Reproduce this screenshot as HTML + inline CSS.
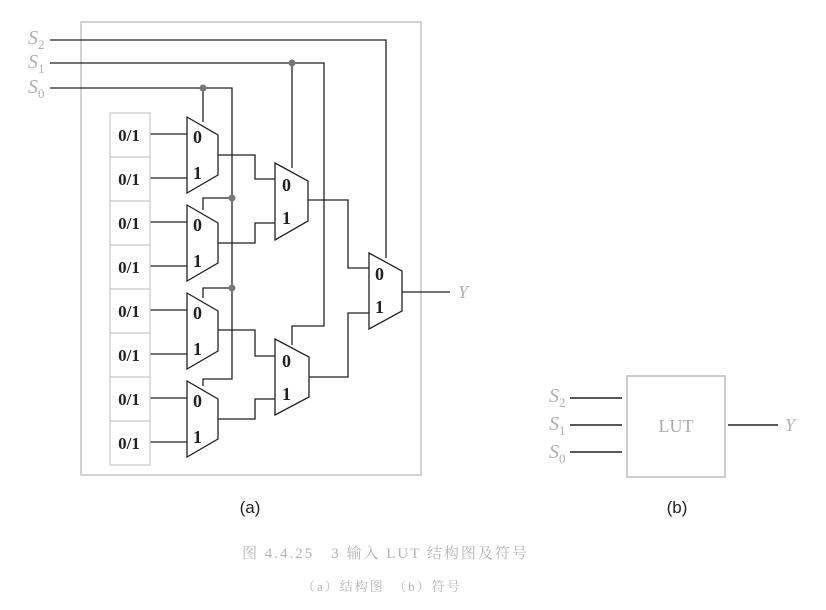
<!DOCTYPE html>
<html><head><meta charset="utf-8"><style>
body{margin:0;background:#fff;}
svg{display:block;}
.g{fill:#b0b0b0;font-family:"Liberation Serif",serif;font-style:italic;}
.g tspan{font-style:normal;}
.b{font-family:"Liberation Serif",serif;font-weight:bold;fill:#222;}
</style></head><body>
<svg width="826" height="610" viewBox="0 0 826 610" xmlns="http://www.w3.org/2000/svg">
<rect x="81" y="22" width="340" height="453" fill="none" stroke="#c4c4c4" stroke-width="1.5"/>
<g class="g" font-size="20">
<text x="28" y="44">S<tspan font-size="13" dy="5">2</tspan></text>
<text x="28" y="68">S<tspan font-size="13" dy="5">1</tspan></text>
<text x="28" y="93">S<tspan font-size="13" dy="5">0</tspan></text>
</g>
<g fill="none" stroke="#222" stroke-width="1.3">
<polyline points="50,40 386,40 386,258"/>
<polyline points="50,63 324,63 324,326 292,326 292,345"/>
<line x1="292" y1="63" x2="292" y2="168"/>
<polyline points="50,88 232,88 232,379 203,379 203,386"/>
<line x1="203" y1="88" x2="203" y2="122"/>
<polyline points="232,198 203,198 203,210"/>
<polyline points="232,288 203,288 203,298"/>
<polygon points="187,117 218,135 218,175 187,193"/>
<polygon points="187,205 218,223 218,263 187,281"/>
<polygon points="187,293 218,311 218,351 187,369"/>
<polygon points="187,381 218,399 218,439 187,457"/>
<polygon points="275,163 308,181 308,221 275,240"/>
<polygon points="275,339 309,357 309,397 275,415"/>
<polygon points="369,253 402,271 402,311 369,329"/>
<line x1="150" y1="134" x2="187" y2="134"/>
<line x1="150" y1="178" x2="187" y2="178"/>
<line x1="150" y1="222" x2="187" y2="222"/>
<line x1="150" y1="266" x2="187" y2="266"/>
<line x1="150" y1="310" x2="187" y2="310"/>
<line x1="150" y1="354" x2="187" y2="354"/>
<line x1="150" y1="398" x2="187" y2="398"/>
<line x1="150" y1="442" x2="187" y2="442"/>
<polyline points="218,155 255,155 255,179 275,179"/>
<polyline points="218,243 255,243 255,223 275,223"/>
<polyline points="218,330 255,330 255,356 275,356"/>
<polyline points="218,419 255,419 255,399 275,399"/>
<polyline points="308,200 348,200 348,268 369,268"/>
<polyline points="309,377 348,377 348,313 369,313"/>
<line x1="402" y1="292" x2="450" y2="292"/>
</g>
<g fill="#777"><circle cx="292" cy="63" r="3.5"/><circle cx="203" cy="88" r="3.5"/><circle cx="232" cy="198" r="3.5"/><circle cx="232" cy="288" r="3.5"/></g>
<g fill="none" stroke="#c8c8c8" stroke-width="1.2">
<rect x="110" y="113" width="40" height="352"/>
<line x1="110" y1="157" x2="150" y2="157"/><line x1="110" y1="201" x2="150" y2="201"/>
<line x1="110" y1="245" x2="150" y2="245"/><line x1="110" y1="289" x2="150" y2="289"/>
<line x1="110" y1="333" x2="150" y2="333"/><line x1="110" y1="377" x2="150" y2="377"/>
<line x1="110" y1="421" x2="150" y2="421"/>
</g>
<g class="b" font-size="17" text-anchor="middle">
<text x="129" y="141">0/1</text><text x="129" y="185">0/1</text><text x="129" y="229">0/1</text><text x="129" y="273">0/1</text>
<text x="129" y="317">0/1</text><text x="129" y="361">0/1</text><text x="129" y="405">0/1</text><text x="129" y="449">0/1</text>
</g>
<g class="b" font-size="18">
<text x="193" y="143">0</text><text x="193" y="179">1</text>
<text x="193" y="231">0</text><text x="193" y="267">1</text>
<text x="193" y="319">0</text><text x="193" y="355">1</text>
<text x="193" y="407">0</text><text x="193" y="443">1</text>
<text x="282" y="191">0</text><text x="282" y="224">1</text>
<text x="282" y="367">0</text><text x="282" y="400">1</text>
<text x="375" y="280">0</text><text x="375" y="313">1</text>
</g>
<text class="g" x="458" y="298" font-size="18">Y</text>
<rect x="627" y="376" width="98" height="101" fill="none" stroke="#bbb" stroke-width="1.5"/>
<text x="676" y="432" text-anchor="middle" font-family="Liberation Serif,serif" font-size="18" fill="#aaa">LUT</text>
<g stroke="#222" stroke-width="1.5">
<line x1="570" y1="398" x2="622" y2="398"/><line x1="570" y1="425" x2="622" y2="425"/><line x1="570" y1="452" x2="622" y2="452"/>
<line x1="728" y1="425" x2="778" y2="425"/>
</g>
<g class="g" font-size="20">
<text x="549" y="402">S<tspan font-size="13" dy="5">2</tspan></text>
<text x="549" y="430">S<tspan font-size="13" dy="5">1</tspan></text>
<text x="549" y="458">S<tspan font-size="13" dy="5">0</tspan></text>
<text x="785" y="431" font-size="18">Y</text>
</g>
<g font-family="Liberation Sans,sans-serif" font-size="17" fill="#222" text-anchor="middle">
<text x="250" y="513">(a)</text><text x="677" y="513">(b)</text>
</g>
<g font-family="'Liberation Serif','Noto Serif CJK SC',serif" fill="#b5b5b5">
<text x="242" y="558" font-size="15" letter-spacing="2">图 4.4.25　3 输入 LUT 结构图及符号</text>
<text x="302" y="591" font-size="13" letter-spacing="2">（a）结构图　（b）符号</text>
</g>
</svg>
</body></html>
